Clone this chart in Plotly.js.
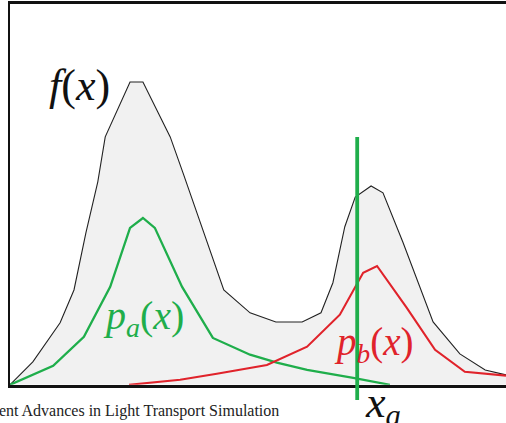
<!DOCTYPE html>
<html>
<head>
<meta charset="utf-8">
<script src="https://cdn.plot.ly/plotly-3.0.1.min.js"></script>
<style>html,body{margin:0;padding:0;background:#fff;}#chart{width:506px;height:423px;}</style>
</head>
<body>
<div id="chart"></div>
<script>
// f(x): target integrand (grey filled)
var fX = [0, 4.6, 10.1, 12.9, 15.3, 17.7, 19.2, 20.8, 24.2, 26.8, 29.2, 32.3, 34.9, 38.9, 43.1, 48.4, 53.6, 58.9, 62.7, 65.1, 67.5, 69.6, 72.8, 75.2, 79.2, 85.3, 90.7, 95.8, 100];
var fY = [0, 6.0, 16.3, 24.9, 39.9, 53.3, 65.1, 69.6, 79.5, 79.5, 73.2, 65.1, 55.6, 40.7, 24.9, 18.9, 16.5, 16.5, 18.9, 26.8, 41.5, 49.3, 52.2, 50.4, 37.5, 16.5, 8.1, 3.9, 2.6];
// p_a(x): green pdf
var paX = [0, 8.7, 14.9, 20.2, 24.2, 26.8, 29.2, 34.7, 40.9, 48.4, 53.8, 59.9, 69.2, 76.6];
var paY = [0, 5.0, 12.6, 25.7, 41.2, 43.8, 41.2, 25.7, 12.3, 7.9, 5.8, 3.9, 1.8, 0];
// p_b(x): red pdf
var pbX = [24.0, 34.3, 41.7, 51.8, 59.9, 66.5, 71.2, 74.0, 80.0, 85.7, 91.7, 100];
var pbY = [0, 1.3, 2.9, 5.2, 10.0, 18.4, 29.4, 31.2, 20.2, 9.2, 3.4, 2.4];
// sample location x_a
var xa = 70.0;
var xaSpan = [-4, 65.1];
// texts
var labelF = '<i>f</i>(<i>x</i>)';
var labelPa = '<i>p</i><sub><i>a</i></sub>(<i>x</i>)';
var labelPb = '<i>p</i><sub><i>b</i></sub>(<i>x</i>)';
var labelXa = '<i>x</i><sub><i>a</i></sub>';
var caption = 'Recent Advances in Light Transport Simulation';

var below = 4; // units shown below the axis
var zFrac = below / (100 + below);

var serif = 'Liberation Serif, DejaVu Serif, serif';
var green = '#1fae4b';
var red = '#e0232b';

var traces = [
  {x: fX, y: fY, mode: 'lines', fill: 'tozeroy', fillcolor: '#f1f1f1',
   line: {color: '#222', width: 1.1}, hoverinfo: 'skip'},
  {x: paX, y: paY, mode: 'lines', line: {color: green, width: 2.3}, hoverinfo: 'skip'},
  {x: pbX, y: pbY, mode: 'lines', line: {color: red, width: 2.1}, hoverinfo: 'skip'},
  {x: [xa, xa], y: xaSpan, mode: 'lines', yaxis: 'y2', line: {color: green, width: 3.8}, hoverinfo: 'skip'}
];

var layout = {
  width: 506, height: 423,
  margin: {l: 10, r: 0, t: 4, b: 23},
  paper_bgcolor: '#fff', plot_bgcolor: 'rgba(0,0,0,0)',
  showlegend: false,
  xaxis: {range: [0, 100], anchor: 'y', showline: true, mirror: true, linecolor: '#111', linewidth: 3,
          showgrid: false, zeroline: false, showticklabels: false, ticks: ''},
  yaxis: {range: [0, 100], domain: [zFrac, 1], showline: true, linecolor: '#111', linewidth: 2.5,
          showgrid: false, zeroline: false, showticklabels: false, ticks: ''},
  yaxis2: {range: [-below, 100], domain: [0, 1], anchor: 'x', overlaying: false,
           showline: false, showgrid: false, zeroline: false, showticklabels: false, ticks: ''},
  annotations: [
    {x: 14.1, y: 78.5, xref: 'x', yref: 'y', text: labelF, showarrow: false,
     font: {family: serif, size: 44, color: '#111'}},
    {x: 27.0, y: 17.5, xref: 'x', yref: 'y', text: labelPa, showarrow: false,
     font: {family: serif, size: 40, color: green}},
    {x: 73.3, y: 10.5, xref: 'x', yref: 'y', text: labelPb, showarrow: false,
     font: {family: serif, size: 39, color: red}},
    {x: (363 - 10) / 496, y: -0.088, xref: 'paper', yref: 'paper', text: labelXa, showarrow: false,
     font: {family: serif, size: 44, color: '#111'}, xanchor: 'left'},
    {x: (281 - 10) / 496, y: 0, xref: 'paper', yref: 'paper', text: caption, showarrow: false,
     font: {family: serif, size: 16, color: '#222'}, xanchor: 'right', yanchor: 'top'}
  ]
};

Plotly.newPlot('chart', traces, layout, {displayModeBar: false, staticPlot: true});
</script>
</body>
</html>
